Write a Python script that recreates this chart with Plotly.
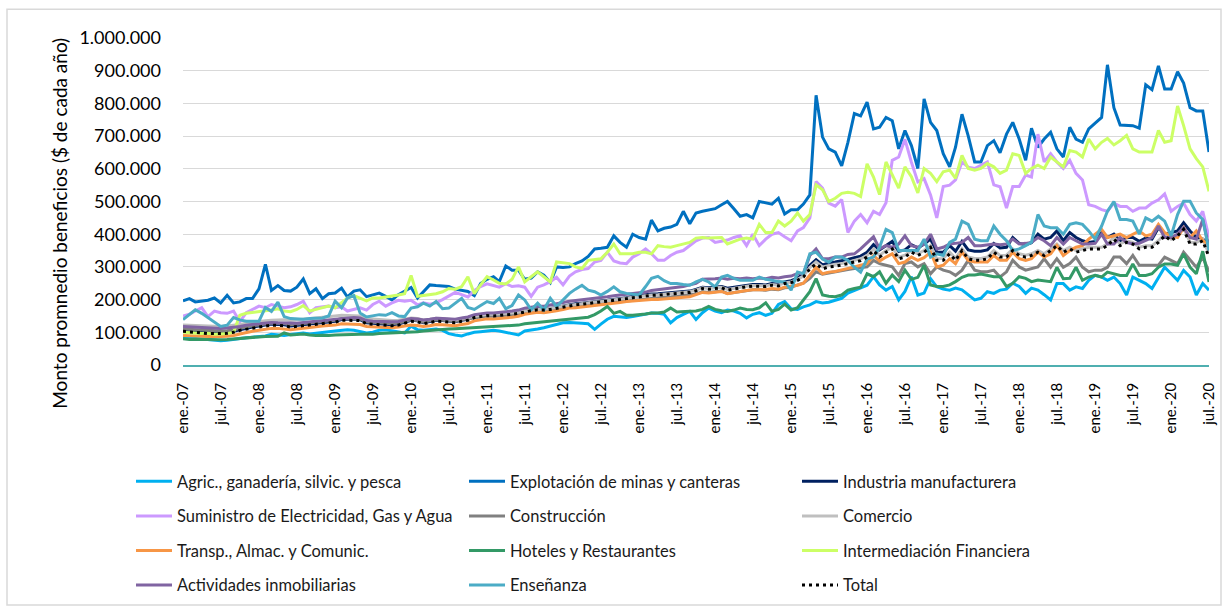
import pandas as pd
import plotly.graph_objects as go

# ---------------- DATA (values in thousands of $) ----------------
months = pd.date_range("2007-01-01", periods=163, freq="MS")

tick_text = ["ene.-07", "jul.-07", "ene.-08", "jul.-08", "ene.-09", "jul.-09", "ene.-10", "jul.-10",
             "ene.-11", "jul.-11", "ene.-12", "jul.-12", "ene.-13", "jul.-13", "ene.-14", "jul.-14",
             "ene.-15", "jul.-15", "ene.-16", "jul.-16", "ene.-17", "jul.-17", "ene.-18", "jul.-18",
             "ene.-19", "jul.-19", "ene.-20", "jul.-20"]
tick_dates = months[::6]

y_ticks = [0, 100000, 200000, 300000, 400000, 500000, 600000, 700000, 800000, 900000, 1000000]

agric = [85, 83, 82, 80, 79, 76, 74, 76, 79, 80,
         83, 85, 87, 89, 94, 92, 90, 93, 95, 98,
         95, 98, 100, 102, 104, 106, 108, 106, 103, 98,
         100, 106, 108, 104, 100, 98, 119, 108, 106, 108,
         110, 106, 96, 92, 89, 95, 100, 102, 104, 106,
         104, 100, 96, 92, 104, 106, 110, 114, 119, 124,
         129, 130, 130, 128, 126, 109, 125, 140, 149, 146,
         145, 148, 152, 155, 159, 158, 155, 129, 145, 155,
         164, 139, 160, 174, 165, 160, 168, 165, 158, 144,
         155, 160, 152, 158, 185, 194, 172, 170, 178, 184,
         194, 190, 192, 198, 204, 220, 228, 235, 244, 270,
         245, 229, 240, 199, 225, 270, 214, 220, 264, 239,
         232, 229, 235, 230, 215, 199, 204, 224, 219, 229,
         232, 250, 240, 219, 235, 229, 215, 199, 249, 249,
         229, 239, 234, 259, 274, 269, 259, 269, 249, 214,
         269, 259, 249, 234, 269, 299, 279, 259, 289, 269,
         214, 249, 229]

mineria = [196, 203, 193, 195, 198, 205, 190, 213, 190, 193,
           203, 203, 233, 308, 228, 243, 228, 226, 238, 263,
           218, 233, 203, 218, 220, 235, 208, 226, 230, 209,
           215, 220, 210, 199, 215, 226, 237, 205, 225, 245,
           243, 241, 240, 232, 228, 225, 212, 249, 262, 270,
           255, 303, 290, 290, 262, 266, 285, 275, 252, 300,
           298, 300, 310, 318, 332, 355, 357, 360, 395, 375,
           360, 400, 390, 385, 443, 410, 418, 422, 430, 470,
           432, 465, 470, 475, 478, 490, 500, 478, 455, 460,
           450, 500, 495, 492, 510, 462, 475, 475, 492, 520,
           825, 697, 661, 651, 609, 681, 769, 762, 804, 722,
           727, 757, 747, 661, 717, 671, 601, 814, 742, 717,
           646, 606, 666, 767, 701, 621, 621, 671, 686, 649,
           706, 742, 691, 626, 724, 666, 691, 712, 661, 636,
           727, 691, 681, 722, 740, 757, 918, 787, 734, 734,
           732, 724, 857, 842, 915, 844, 844, 897, 862, 787,
           777, 777, 651]

industria = [107, 105, 103, 101, 99, 98, 99, 100, 103, 108,
             113, 116, 119, 122, 125, 124, 123, 119, 121, 125,
             127, 129, 131, 132, 134, 139, 140, 141, 139, 129,
             128, 126, 125, 123, 125, 131, 137, 135, 129, 133,
             137, 136, 134, 132, 137, 140, 148, 152, 154, 153,
             154, 157, 158, 161, 166, 169, 172, 171, 173, 177,
             181, 185, 187, 189, 192, 195, 196, 198, 200, 203,
             206, 210, 213, 215, 217, 218, 220, 221, 223, 224,
             226, 231, 238, 236, 238, 240, 235, 238, 242, 244,
             246, 246, 245, 249, 247, 254, 258, 266, 278, 305,
             322, 306, 312, 315, 318, 323, 328, 333, 345, 368,
             352, 365, 378, 348, 352, 368, 358, 370, 385, 345,
             345, 365, 348, 378, 352, 348, 348, 352, 372, 358,
             360, 390, 372, 368, 374, 400, 385, 390, 410, 380,
             405, 390, 380, 375, 378, 410, 390, 400, 380, 390,
             390, 378, 388, 385, 420, 400, 405, 410, 435, 410,
             390, 385, 370]

electricidad = [150, 155, 165, 175, 148, 165, 160, 158, 165, 132,
                160, 170, 180, 175, 185, 180, 175, 178, 185, 195,
                160, 175, 178, 180, 175, 178, 165, 170, 175, 168,
                185, 195, 180, 190, 198, 195, 198, 184, 190, 186,
                190, 200, 212, 222, 215, 208, 228, 240, 248, 242,
                238, 249, 240, 242, 238, 210, 238, 245, 255, 268,
                245, 272, 285, 292, 295, 315, 320, 345, 318, 312,
                310, 330, 340, 355, 340, 320, 320, 335, 345, 350,
                365, 380, 388, 390, 375, 378, 382, 390, 395, 365,
                400, 365, 385, 400, 405, 392, 380, 410, 420, 450,
                561, 541, 495, 486, 506, 405, 440, 460, 435, 470,
                460, 496, 626, 636, 690, 620, 560, 570, 520, 450,
                546, 550, 566, 621, 605, 601, 610, 621, 551, 545,
                480, 546, 546, 581, 575, 706, 621, 646, 621, 601,
                626, 586, 566, 490, 485, 475, 470, 495, 485, 485,
                470, 480, 480, 495, 505, 523, 470, 485, 495, 460,
                440, 470, 390]

construccion = [110, 109, 107, 106, 104, 103, 104, 105, 107, 112,
                117, 120, 122, 125, 128, 128, 127, 123, 125, 128,
                130, 132, 134, 135, 137, 142, 142, 143, 141, 132,
                131, 129, 128, 126, 128, 133, 138, 136, 131, 135,
                138, 137, 135, 133, 138, 141, 146, 149, 150, 149,
                150, 152, 153, 156, 160, 163, 166, 165, 167, 170,
                174, 178, 180, 182, 184, 186, 187, 189, 190, 193,
                196, 198, 200, 202, 204, 205, 207, 208, 210, 211,
                213, 217, 224, 222, 224, 226, 219, 222, 226, 228,
                230, 230, 229, 232, 230, 236, 238, 245, 250, 265,
                285, 278, 282, 284, 288, 292, 295, 298, 300, 320,
                310, 305, 300, 274, 310, 315, 300, 310, 279, 300,
                290, 285, 274, 290, 320, 290, 285, 285, 290, 269,
                285, 320, 300, 290, 295, 300, 325, 299, 325, 299,
                310, 330, 299, 285, 290, 290, 299, 330, 330, 310,
                335, 305, 305, 305, 305, 330, 320, 310, 345, 320,
                299, 330, 285]

comercio = [122, 121, 120, 120, 119, 118, 118, 119, 121, 124,
            128, 131, 133, 135, 137, 138, 138, 136, 138, 142,
            144, 146, 148, 149, 150, 152, 152, 152, 150, 142,
            140, 138, 137, 136, 137, 140, 144, 142, 138, 140,
            143, 142, 140, 138, 142, 145, 150, 153, 155, 155,
            156, 158, 159, 161, 165, 168, 170, 170, 172, 176,
            180, 183, 185, 187, 190, 193, 194, 196, 198, 201,
            204, 207, 210, 212, 214, 215, 217, 218, 220, 221,
            224, 229, 236, 234, 236, 238, 231, 235, 239, 241,
            243, 243, 242, 246, 244, 251, 254, 262, 272, 298,
            315, 300, 305, 308, 310, 316, 320, 325, 335, 355,
            335, 350, 360, 330, 336, 350, 340, 350, 365, 325,
            326, 345, 326, 355, 330, 326, 326, 330, 350, 335,
            336, 355, 340, 336, 340, 350, 340, 355, 370, 350,
            360, 350, 355, 360, 360, 360, 370, 390, 370, 380,
            375, 360, 365, 365, 380, 400, 385, 400, 420, 375,
            375, 385, 340]

transporte = [90, 90, 89, 88, 87, 86, 87, 88, 90, 95,
              100, 103, 106, 109, 112, 112, 111, 108, 110, 113,
              115, 117, 119, 120, 122, 126, 126, 125, 124, 118,
              117, 116, 115, 114, 116, 119, 122, 121, 118, 120,
              124, 123, 121, 120, 124, 127, 135, 139, 141, 141,
              142, 145, 146, 149, 155, 158, 161, 160, 162, 166,
              170, 174, 175, 177, 180, 183, 184, 185, 188, 191,
              194, 196, 198, 199, 200, 200, 202, 204, 206, 207,
              209, 215, 222, 220, 222, 225, 218, 222, 226, 228,
              230, 231, 230, 234, 232, 238, 240, 244, 250, 274,
              299, 279, 284, 286, 290, 295, 300, 305, 310, 335,
              318, 330, 340, 310, 315, 330, 320, 328, 345, 300,
              305, 325, 310, 345, 320, 315, 315, 315, 335, 320,
              320, 345, 325, 320, 325, 345, 330, 340, 365, 335,
              350, 360, 365, 385, 400, 415, 390, 395, 400, 390,
              400, 410, 395, 400, 430, 405, 395, 390, 420, 390,
              410, 380, 370]

hoteles = [80, 78, 79, 78, 77, 76, 77, 78, 80, 82,
           84, 85, 86, 87, 88, 88, 98, 92, 93, 95,
           92, 90, 91, 90, 92, 92, 93, 94, 94, 95,
           94, 96, 97, 96, 98, 99, 100, 102, 104, 106,
           107, 108, 110, 111, 112, 113, 114, 115, 116, 118,
           119, 120, 121, 122, 126, 128, 130, 132, 134, 136,
           138, 139, 140, 142, 146, 154, 165, 179, 158, 164,
           152, 152, 153, 156, 159, 159, 162, 174, 162, 164,
           164, 165, 170, 179, 170, 166, 164, 168, 174, 170,
           169, 175, 190, 164, 170, 186, 168, 175, 198, 224,
           264, 214, 210, 209, 214, 229, 234, 238, 279, 270,
           285, 250, 275, 255, 290, 262, 268, 305, 245, 240,
           240, 245, 255, 268, 275, 275, 278, 275, 270, 270,
           240, 250, 270, 265, 255, 260, 258, 255, 299, 264,
           265, 299, 259, 269, 274, 269, 284, 279, 274, 274,
           309, 274, 274, 279, 299, 309, 309, 305, 340, 299,
           279, 348, 254]

financiera = [100, 98, 97, 96, 97, 94, 95, 96, 100, 152,
              158, 160, 163, 165, 168, 172, 165, 163, 170, 182,
              165, 170, 175, 180, 175, 190, 205, 212, 205, 196,
              205, 205, 208, 210, 214, 218, 274, 210, 212, 214,
              218, 224, 234, 232, 240, 270, 218, 245, 270, 260,
              250, 248, 262, 300, 254, 270, 285, 270, 254, 315,
              312, 310, 300, 295, 320, 322, 325, 345, 370, 340,
              340, 340, 345, 345, 340, 365, 362, 360, 365, 370,
              375, 388, 390, 388, 390, 390, 370, 378, 385, 388,
              385, 430, 405, 405, 440, 425, 440, 465, 440, 460,
              551, 536, 500, 510, 525, 528, 525, 515, 615, 575,
              521, 621, 581, 541, 606, 576, 526, 601, 586, 561,
              591, 596, 571, 641, 601, 596, 601, 616, 606, 586,
              596, 646, 641, 586, 601, 611, 601, 636, 621, 606,
              656, 651, 636, 691, 661, 681, 693, 673, 686, 702,
              661, 651, 651, 651, 717, 681, 686, 792, 732, 661,
              631, 606, 531]

inmobiliarias = [118, 117, 115, 114, 113, 112, 112, 113, 115, 118,
                 122, 124, 126, 128, 130, 129, 128, 127, 128, 130,
                 132, 134, 136, 137, 139, 143, 144, 145, 144, 136,
                 134, 133, 133, 132, 133, 138, 142, 141, 138, 140,
                 143, 142, 141, 140, 144, 147, 154, 157, 159, 159,
                 160, 163, 165, 168, 174, 177, 180, 180, 183, 187,
                 191, 195, 197, 199, 202, 205, 207, 209, 212, 214,
                 216, 218, 221, 223, 228, 230, 232, 234, 236, 240,
                 245, 250, 262, 262, 264, 266, 262, 265, 264, 266,
                 264, 266, 264, 268, 266, 270, 272, 280, 280, 335,
                 355, 325, 325, 330, 330, 338, 340, 355, 375, 392,
                 355, 365, 360, 370, 395, 365, 360, 370, 400, 355,
                 360, 370, 372, 375, 390, 365, 365, 368, 370, 368,
                 370, 385, 370, 372, 375, 390, 380, 365, 390, 370,
                 390, 380, 370, 370, 372, 400, 370, 370, 390, 375,
                 370, 372, 380, 390, 425, 390, 390, 400, 420, 390,
                 385, 445, 360]

ensenanza = [139, 155, 169, 158, 145, 130, 118, 122, 145, 138,
             134, 134, 134, 176, 164, 192, 148, 142, 140, 140,
             142, 142, 144, 150, 195, 175, 205, 212, 159, 147,
             150, 154, 152, 160, 150, 148, 174, 178, 189, 180,
             194, 172, 174, 190, 204, 176, 170, 182, 194, 188,
             204, 172, 182, 214, 199, 169, 189, 169, 204, 179,
             200, 219, 232, 244, 229, 224, 214, 225, 239, 224,
             219, 217, 214, 240, 265, 271, 258, 249, 249, 246,
             244, 254, 262, 254, 239, 269, 274, 265, 259, 259,
             259, 269, 262, 259, 255, 254, 229, 284, 279, 340,
             345, 324, 314, 330, 330, 320, 299, 284, 324, 330,
             360, 415, 405, 350, 350, 350, 350, 385, 330, 340,
             335, 375, 385, 440, 430, 385, 380, 380, 425, 400,
             380, 350, 355, 365, 375, 460, 425, 420, 420, 400,
             430, 435, 430, 410, 385, 425, 470, 500, 445, 445,
             440, 400, 450, 440, 455, 440, 395, 460, 501, 501,
             465, 445, 350]

total = [103, 102, 100, 98, 96, 95, 96, 97, 100, 106,
         110, 113, 116, 119, 122, 121, 120, 116, 118, 122,
         124, 126, 128, 129, 131, 137, 137, 138, 136, 126,
         125, 123, 122, 120, 122, 128, 134, 132, 126, 130,
         134, 133, 131, 129, 134, 137, 145, 149, 151, 150,
         151, 154, 155, 158, 163, 166, 169, 168, 170, 174,
         178, 182, 184, 186, 189, 192, 193, 195, 197, 200,
         203, 206, 209, 211, 213, 214, 216, 217, 219, 220,
         222, 227, 234, 232, 234, 236, 229, 233, 237, 239,
         241, 241, 240, 244, 242, 249, 252, 259, 269, 294,
         309, 294, 300, 302, 305, 310, 315, 319, 330, 350,
         330, 345, 355, 325, 330, 345, 335, 345, 360, 320,
         320, 340, 320, 350, 325, 320, 320, 325, 345, 330,
         330, 350, 335, 330, 335, 345, 335, 350, 365, 345,
         355, 345, 350, 355, 355, 355, 365, 385, 365, 375,
         370, 355, 360, 360, 375, 395, 380, 395, 415, 370,
         370, 380, 330]

series = [
    ("Agric., ganadería, silvic. y pesca", agric, "#00B0F0", "solid", "legend"),
    ("Explotación de minas y canteras", mineria, "#0070C0", "solid", "legend"),
    ("Industria manufacturera", industria, "#002060", "solid", "legend"),
    ("Suministro de Electricidad, Gas y Agua", electricidad, "#CC99FF", "solid", "legend2"),
    ("Construcción", construccion, "#808080", "solid", "legend2"),
    ("Comercio", comercio, "#BFBFBF", "solid", "legend2"),
    ("Transp., Almac. y Comunic.", transporte, "#F79646", "solid", "legend3"),
    ("Hoteles y Restaurantes", hoteles, "#339966", "solid", "legend3"),
    ("Intermediación Financiera", financiera, "#CCFF66", "solid", "legend3"),
    ("Actividades inmobiliarias", inmobiliarias, "#8064A2", "solid", "legend4"),
    ("Enseñanza", ensenanza, "#4BACC6", "solid", "legend4"),
    ("Total", total, "#000000", "3px,4px", "legend4"),
]

fig = go.Figure()
for name, vals, color, dash, leg in series:
    fig.add_trace(go.Scatter(
        x=months, y=[v * 1000 for v in vals], name=name, mode="lines",
        line=dict(color=color, width=3, dash=dash),
        legend=leg,
    ))

# ---------------- LAYOUT ----------------
W, H = 1228, 615
ml, mr, mt, mb = 183, 19, 38, 246
pw = W - ml - mr
ph = H - mt - mb


def px_x(px):
    return (px - ml) / pw


def px_y(py):
    return (H - mb - py) / ph


font_family = "Lato, 'Open Sans', sans-serif"

legend_common = dict(
    orientation="h", xanchor="left", yanchor="middle",
    entrywidth=282, entrywidthmode="pixels",
    font=dict(family=font_family, size=16.5, color="#1a1a1a"),
    bgcolor="rgba(0,0,0,0)", itemwidth=36, traceorder="normal",
)
leg_x = px_x(131)

fig.update_layout(
    width=W, height=H,
    margin=dict(l=ml, r=mr, t=mt, b=mb),
    paper_bgcolor="white", plot_bgcolor="white",
    separators=",.",
    font=dict(family=font_family, color="#000000"),
    showlegend=True,
    legend=dict(x=leg_x, y=px_y(487), **legend_common),
    legend2=dict(x=leg_x, y=px_y(522), **legend_common),
    legend3=dict(x=leg_x, y=px_y(557), **legend_common),
    legend4=dict(x=leg_x, y=px_y(592), **legend_common),
    xaxis=dict(
        range=[months[0], months[-1]],
        tickmode="array", tickvals=list(tick_dates), ticktext=tick_text,
        tickangle=-90, tickfont=dict(family=font_family, size=15, color="#000000"),
        showgrid=False, showline=True, linecolor="#4FAFB0", linewidth=1.5,
        ticks="", ticklabelstandoff=10,
    ),
    yaxis=dict(
        range=[0, 1000000],
        tickmode="array", tickvals=y_ticks, tickformat=",d",
        tickfont=dict(family=font_family, size=18, color="#000000"),
        showgrid=True, gridcolor="#D9D9D9", gridwidth=1.3,
        zeroline=False, showline=False, ticks="", ticklabelstandoff=21,
    ),
    annotations=[dict(
        text="Monto promnedio beneficios ($ de cada año)",
        xref="paper", yref="paper", x=px_x(60), y=px_y(226),
        xanchor="center", yanchor="middle", textangle=-90, showarrow=False,
        font=dict(family=font_family, size=19, color="#000000"),
    )],
    shapes=[dict(
        type="rect", xref="paper", yref="paper",
        x0=px_x(7), x1=px_x(1221), y0=px_y(9), y1=px_y(612),
        line=dict(color="#D9D9D9", width=1.5), fillcolor="rgba(0,0,0,0)", layer="below",
    )],
)

fig.write_html("out.html", config={"displayModeBar": False},
               post_script="document.body.style.margin='0px';")
